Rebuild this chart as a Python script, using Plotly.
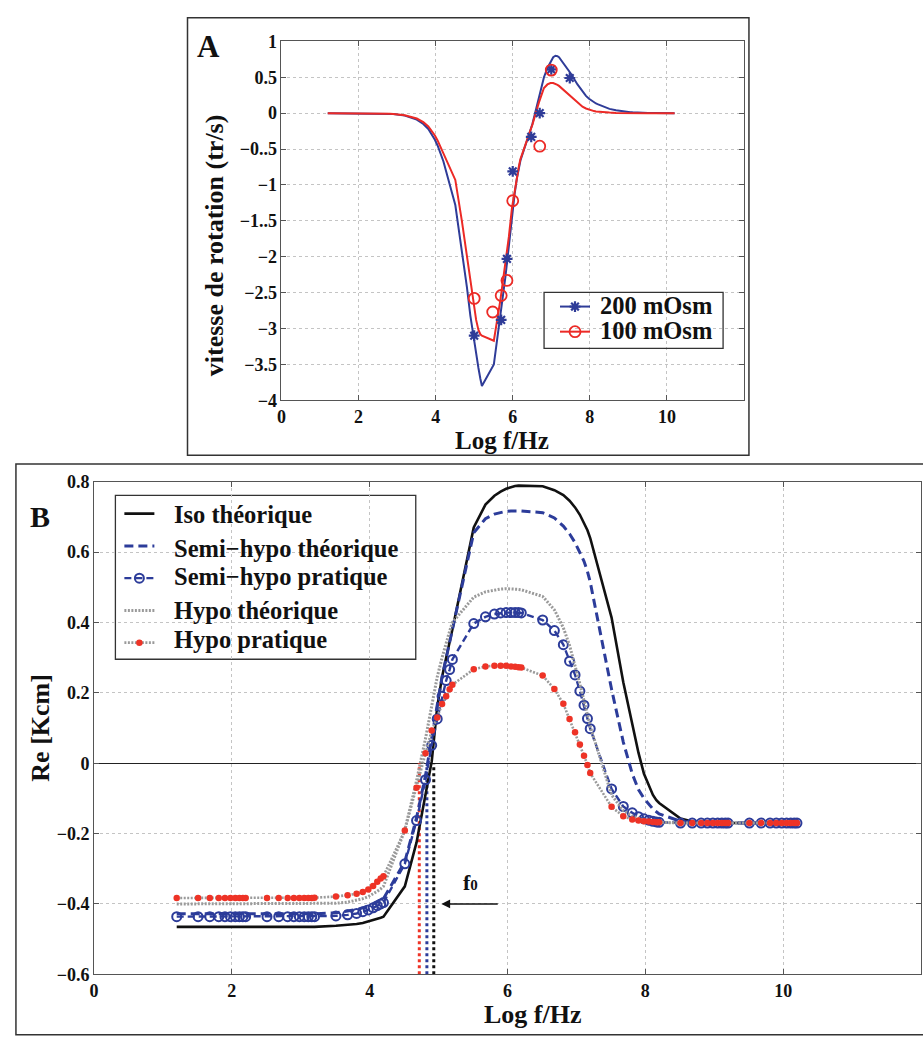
import plotly.graph_objects as go

W, H = 923, 1037

# Frequency sweep (log10 of f in Hz), shared by both panels
LOG_F = [
    1.20, 1.51, 1.68, 1.81, 1.90, 1.98, 2.05, 2.11, 2.16,
    2.20, 2.51, 2.68, 2.81, 2.90, 2.98, 3.05, 3.11, 3.16,
    3.20, 3.51, 3.68, 3.81, 3.90, 3.98, 4.05, 4.11, 4.16,
    4.20, 4.51, 4.68, 4.81, 4.90, 4.98, 5.05, 5.11, 5.16,
    5.20, 5.51, 5.68, 5.81, 5.90, 5.98, 6.05, 6.11, 6.16,
    6.20, 6.51, 6.68, 6.81, 6.90, 6.98, 7.05, 7.11, 7.16,
    7.20, 7.51, 7.68, 7.81, 7.90, 7.98, 8.05, 8.11, 8.16,
    8.20, 8.51, 8.68, 8.81, 8.90, 8.98, 9.05, 9.11, 9.16,
    9.20, 9.51, 9.68, 9.81, 9.90, 9.98, 10.05, 10.11, 10.16,
    10.20,
]

# Panel A: rotation speed (tr/s), model curves
ROT_200_MODEL = [
    0.0, 0.0, 0.0, 0.0, 0.0, 0.0, 0.0, 0.0, 0.0,
    0.0, -0.004, -0.007, -0.010, -0.013, -0.017, -0.021, -0.026, -0.030,
    -0.034, -0.09, -0.15, -0.22, -0.29, -0.37, -0.45, -0.54, -0.61,
    -0.67, -1.28, -1.90, -2.42, -2.82, -3.12, -3.35, -3.55, -3.70,
    -3.80, -3.50, -2.85, -2.28, -1.85, -1.42, -1.12, -0.90, -0.76,
    -0.66, -0.15, 0.22, 0.50, 0.63, 0.72, 0.78, 0.80, 0.795,
    0.78, 0.55, 0.40, 0.30, 0.24, 0.20, 0.17, 0.15, 0.135,
    0.125, 0.06, 0.04, 0.028, 0.022, 0.017, 0.014, 0.012, 0.010,
    0.009, 0.004, 0.002, 0.001, 0.001, 0.0, 0.0, 0.0, 0.0,
    0.0,
]
ROT_100_MODEL = [
    0.0, 0.0, 0.0, 0.0, 0.0, 0.0, 0.0, 0.0, 0.0,
    0.0, -0.003, -0.006, -0.009, -0.012, -0.015, -0.019, -0.023, -0.027,
    -0.030, -0.075, -0.125, -0.185, -0.245, -0.31, -0.38, -0.45, -0.51,
    -0.56, -0.93, -1.50, -1.98, -2.32, -2.65, -2.88, -3.02, -3.08,
    -3.10, -3.17, -2.60, -2.12, -1.72, -1.32, -1.08, -0.88, -0.74,
    -0.64, -0.16, 0.15, 0.35, 0.40, 0.42, 0.42, 0.41, 0.395,
    0.38, 0.23, 0.14, 0.09, 0.065, 0.047, 0.036, 0.029, 0.024,
    0.021, 0.008, 0.004, 0.002, 0.001, 0.0, 0.0, 0.0, 0.0,
    0.0, 0.0, 0.0, 0.0, 0.0, 0.0, 0.0, 0.0, 0.0,
    0.0,
]

# Panel A: measured rotation speeds
MEAS_200_LOGF = [5.0, 5.7, 5.85, 6.0, 6.48, 6.7, 7.0, 7.48]
MEAS_200_ROT = [-3.10, -2.88, -2.03, -0.81, -0.33, 0.0, 0.61, 0.49]
MEAS_100_LOGF = [5.0, 5.48, 5.7, 5.85, 6.0, 6.7, 7.0]
MEAS_100_ROT = [-2.58, -2.77, -2.54, -2.33, -1.22, -0.46, 0.60]

# Panel B: real part of the Clausius-Mossotti factor
ISO_THEO = [
    -0.465, -0.465, -0.465, -0.465, -0.465, -0.465, -0.465, -0.465, -0.465,
    -0.465, -0.465, -0.465, -0.465, -0.465, -0.465, -0.465, -0.465, -0.465,
    -0.465, -0.462, -0.460, -0.457, -0.454, -0.450, -0.446, -0.442, -0.439,
    -0.436, -0.350, -0.225, -0.085, 0.005, 0.160, 0.245, 0.300, 0.345,
    0.380, 0.670, 0.735, 0.760, 0.772, 0.780, 0.785, 0.788, 0.789,
    0.789, 0.787, 0.776, 0.762, 0.746, 0.727, 0.706, 0.684, 0.662,
    0.640, 0.414, 0.230, 0.110, 0.030, -0.030, -0.065, -0.090, -0.105,
    -0.113, -0.157, -0.166, -0.169, -0.170, -0.170, -0.170, -0.170, -0.170,
    -0.170, -0.170, -0.170, -0.170, -0.170, -0.170, -0.170, -0.170, -0.170,
    -0.170,
]
SEMI_THEO = [
    -0.428, -0.428, -0.428, -0.428, -0.428, -0.428, -0.428, -0.428, -0.428,
    -0.428, -0.428, -0.428, -0.428, -0.428, -0.428, -0.428, -0.428, -0.428,
    -0.428, -0.425, -0.421, -0.416, -0.411, -0.406, -0.400, -0.394, -0.389,
    -0.385, -0.280, -0.155, -0.035, 0.065, 0.165, 0.245, 0.300, 0.345,
    0.380, 0.655, 0.695, 0.708, 0.713, 0.716, 0.717, 0.717, 0.717,
    0.717, 0.712, 0.697, 0.674, 0.652, 0.627, 0.600, 0.574, 0.545,
    0.515, 0.210, 0.060, -0.030, -0.075, -0.100, -0.117, -0.130, -0.138,
    -0.144, -0.165, -0.169, -0.170, -0.170, -0.170, -0.170, -0.170, -0.170,
    -0.170, -0.170, -0.170, -0.170, -0.170, -0.170, -0.170, -0.170, -0.170,
    -0.170,
]
SEMI_PRAT = [
    -0.436, -0.436, -0.436, -0.436, -0.436, -0.436, -0.436, -0.436, -0.436,
    -0.436, -0.436, -0.436, -0.436, -0.436, -0.436, -0.436, -0.436, -0.436,
    -0.436, -0.434, -0.431, -0.427, -0.422, -0.417, -0.411, -0.405, -0.400,
    -0.396, -0.286, -0.163, -0.047, 0.051, 0.126, 0.190, 0.235, 0.266,
    0.295, 0.397, 0.416, 0.424, 0.427, 0.428, 0.428, 0.428, 0.428,
    0.427, 0.407, 0.377, 0.337, 0.290, 0.251, 0.205, 0.165, 0.127,
    0.098, -0.073, -0.123, -0.141, -0.152, -0.158, -0.162, -0.165, -0.167,
    -0.168, -0.170, -0.170, -0.170, -0.170, -0.170, -0.170, -0.170, -0.170,
    -0.170, -0.170, -0.170, -0.170, -0.170, -0.170, -0.170, -0.170, -0.170,
    -0.170,
]
HYPO_THEO = [
    -0.400, -0.400, -0.400, -0.400, -0.400, -0.400, -0.400, -0.400, -0.400,
    -0.400, -0.400, -0.400, -0.400, -0.400, -0.400, -0.400, -0.400, -0.400,
    -0.400, -0.398, -0.395, -0.390, -0.385, -0.379, -0.372, -0.364, -0.357,
    -0.350, -0.190, -0.050, 0.070, 0.165, 0.245, 0.300, 0.345, 0.375,
    0.400, 0.472, 0.487, 0.493, 0.495, 0.496, 0.496, 0.495, 0.494,
    0.493, 0.474, 0.436, 0.385, 0.335, 0.280, 0.225, 0.178, 0.140,
    0.105, -0.090, -0.135, -0.150, -0.157, -0.161, -0.164, -0.166, -0.167,
    -0.168, -0.170, -0.170, -0.170, -0.170, -0.170, -0.170, -0.170, -0.170,
    -0.170, -0.170, -0.170, -0.170, -0.170, -0.170, -0.170, -0.170, -0.170,
    -0.170,
]
HYPO_PRAT = [
    -0.383, -0.383, -0.383, -0.383, -0.383, -0.383, -0.383, -0.383, -0.383,
    -0.383, -0.383, -0.383, -0.383, -0.383, -0.383, -0.383, -0.383, -0.383,
    -0.382, -0.379, -0.375, -0.371, -0.366, -0.359, -0.349, -0.337, -0.328,
    -0.321, -0.191, -0.070, 0.028, 0.093, 0.130, 0.168, 0.190, 0.210,
    0.223, 0.267, 0.275, 0.277, 0.277, 0.277, 0.275, 0.274, 0.273,
    0.272, 0.249, 0.211, 0.169, 0.126, 0.088, 0.053, 0.021, -0.005,
    -0.028, -0.124, -0.151, -0.160, -0.163, -0.165, -0.166, -0.167, -0.168,
    -0.168, -0.170, -0.170, -0.170, -0.170, -0.170, -0.170, -0.170, -0.170,
    -0.170, -0.170, -0.170, -0.170, -0.170, -0.170, -0.170, -0.170, -0.170,
    -0.170,
]

# Crossover frequencies f0 (log f) for hypo, semi-hypo and iso media
F0_LOGF = [4.72, 4.83, 4.93]

A_YTICKS = [-4, -3.5, -3, -2.5, -2, -1.5, -1, -0.5, 0, 0.5, 1]
A_YTICKTEXT = ["−4", "−3.5", "−3", "−2.5", "−2", "−1..5", "−1", "−0..5", "0", "0.5", "1"]
B_YTICKS = [-0.6, -0.4, -0.2, 0, 0.2, 0.4, 0.6, 0.8]
B_YTICKTEXT = ["−0.6", "−0.4", "−0.2", "0", "0.2", "0.4", "0.6", "0.8"]
X_TICKS = [0, 2, 4, 6, 8, 10]
LEGEND_A = ["200 mOsm", "100 mOsm"]
LEGEND_B = ["Iso théorique", "Semi−hypo théorique", "Semi−hypo pratique",
            "Hypo théorique", "Hypo pratique"]

# ---------------------------------------------------------------- style
FONT = "Liberation Serif"
BLUE_A = "#2F3C98"
RED_A = "#EC2A26"
BLACK = "#111111"
BLUE = "#2C3C9A"
GRAY = "#9A9A9A"
RED = "#EE3326"
GRID = "#C4C4C4"
AXLINE = "#555555"


def fx(p):
    return p / W


def fy(p):
    return 1 - p / H


fig = go.Figure()

# ---------------------------------------------------------------- panel A
fig.add_trace(go.Scatter(x=LOG_F, y=ROT_200_MODEL, mode="lines",
                         line=dict(color=BLUE_A, width=2), showlegend=False,
                         xaxis="x", yaxis="y"))
fig.add_trace(go.Scatter(x=LOG_F, y=ROT_100_MODEL, mode="lines",
                         line=dict(color=RED_A, width=2), showlegend=False,
                         xaxis="x", yaxis="y"))
MARK_200 = dict(symbol="asterisk-open", size=9, color=BLUE_A, line=dict(color=BLUE_A, width=2.2))
MARK_100 = dict(symbol="circle-open", size=11, color=RED_A, line=dict(color=RED_A, width=1.8))
fig.add_trace(go.Scatter(x=MEAS_200_LOGF, y=MEAS_200_ROT, mode="markers",
                         marker=MARK_200, showlegend=False, xaxis="x", yaxis="y"))
fig.add_trace(go.Scatter(x=MEAS_100_LOGF, y=MEAS_100_ROT, mode="markers",
                         marker=MARK_100, showlegend=False, xaxis="x", yaxis="y"))
# legend keys (text is set as annotations)
fig.add_trace(go.Scatter(x=[None], y=[None], mode="lines+markers", name=" ",
                         line=dict(color=BLUE_A, width=2), marker=MARK_200,
                         legend="legend", xaxis="x", yaxis="y"))
fig.add_trace(go.Scatter(x=[None], y=[None], mode="lines+markers", name=" ",
                         line=dict(color=RED_A, width=2), marker=MARK_100,
                         legend="legend", xaxis="x", yaxis="y"))

# ---------------------------------------------------------------- panel B
F0_COLORS = [RED, BLUE, BLACK]
for f0, col in zip(F0_LOGF, F0_COLORS):
    fig.add_trace(go.Scatter(x=[f0, f0], y=[-0.6, 0], mode="lines",
                             line=dict(color=col, width=3, dash="3px,3px"),
                             showlegend=False, xaxis="x2", yaxis="y2"))

B_STYLES = [
    dict(mode="lines", line=dict(color=BLACK, width=2.6)),
    dict(mode="lines", line=dict(color=BLUE, width=3, dash="9px,5px")),
    dict(mode="lines+markers", line=dict(color=BLUE, width=2.4, dash="7px,4px"),
         marker=dict(symbol="circle-open", size=9, color=BLUE, line=dict(color=BLUE, width=2))),
    dict(mode="lines", line=dict(color=GRAY, width=3, dash="2px,1.5px")),
    dict(mode="lines+markers", line=dict(color=GRAY, width=2.6, dash="2px,1.5px"),
         marker=dict(symbol="circle", size=6.5, color=RED, line=dict(width=0))),
]
B_SERIES = [ISO_THEO, SEMI_THEO, SEMI_PRAT, HYPO_THEO, HYPO_PRAT]
for ys, st in zip(B_SERIES, B_STYLES):
    fig.add_trace(go.Scatter(x=LOG_F, y=ys, showlegend=False, xaxis="x2", yaxis="y2", **st))
for st in B_STYLES:
    fig.add_trace(go.Scatter(x=[None], y=[None], name=" ", legend="legend2",
                             xaxis="x2", yaxis="y2", **st))

# ---------------------------------------------------------------- axes
tickfont = dict(family=FONT, size=18, color="#111", weight="bold")
common = dict(ticks="inside", ticklen=5, tickcolor=AXLINE, showline=True, linecolor=AXLINE,
              linewidth=1, mirror="ticks", showgrid=True, gridcolor=GRID, griddash="dot",
              gridwidth=1, tickfont=tickfont)

fig.update_layout(
    width=W, height=H, autosize=False,
    margin=dict(l=0, r=0, t=0, b=0),
    paper_bgcolor="white", plot_bgcolor="white",
    xaxis=dict(domain=[fx(278), fx(743)], range=[0, 12], tickvals=X_TICKS,
               zeroline=False, anchor="y", **common),
    yaxis=dict(domain=[fy(398), fy(32)], range=[-4, 1], tickvals=A_YTICKS,
               ticktext=A_YTICKTEXT, zeroline=False, anchor="x", **common),
    xaxis2=dict(domain=[fx(89.5), fx(921)], range=[0, 12], tickvals=X_TICKS,
                zeroline=False, anchor="y2", **common),
    yaxis2=dict(domain=[fy(983.3), fy(481)], range=[-0.6, 0.8], tickvals=B_YTICKS,
                ticktext=B_YTICKTEXT, zeroline=True, zerolinecolor="#222", zerolinewidth=1.2,
                anchor="x2", **common),
    legend=dict(x=fx(553), y=fy(284.5), xanchor="left", yanchor="top",
                bgcolor="rgba(0,0,0,0)", borderwidth=0, font=dict(size=17)),
    legend2=dict(x=fx(115), y=fy(492), xanchor="left", yanchor="top",
                 bgcolor="rgba(0,0,0,0)", borderwidth=0, font=dict(size=22.5)),
    showlegend=True,
)

# ---------------------------------------------------------------- frames & text
shapes = [
    dict(type="rect", xref="paper", yref="paper", x0=fx(183.5), x1=fx(748), y0=fy(454), y1=fy(8),
         line=dict(color="#333", width=1.5), fillcolor="rgba(0,0,0,0)", layer="above"),
    dict(type="rect", xref="paper", yref="paper", x0=fx(11), x1=fx(930), y0=fy(1045), y1=fy(463),
         line=dict(color="#333", width=1.5), fillcolor="rgba(0,0,0,0)", layer="above"),
    dict(type="rect", xref="paper", yref="paper", x0=fx(542), x1=fx(722), y0=fy(345), y1=fy(288),
         line=dict(color="#333", width=1.3), fillcolor="rgba(0,0,0,0)", layer="above"),
    dict(type="rect", xref="paper", yref="paper", x0=fx(111), x1=fx(413), y0=fy(662), y1=fy(495),
         line=dict(color="#333", width=1.3), fillcolor="white", layer="below"),
]
fig.update_layout(shapes=shapes)


def text(x, y, s, size, xanchor="center", angle=0):
    return dict(xref="paper", yref="paper", x=fx(x), y=fy(y), text=s, showarrow=False,
                xanchor=xanchor, yanchor="middle", textangle=angle,
                font=dict(family=FONT, size=size, color="#111", weight="bold"))


ann = [
    text(205, 37, "A", 31),
    text(35, 516, "B", 30),
    text(500, 439, "Log f/Hz", 25),
    text(211, 240, "vitesse de rotation (tr/s)", 26, angle=-90),
    text(531, 1024, "Log f/Hz", 26),
    text(36, 732, "Re [Kcm]", 26, angle=-90),
]
for lbl, yy in zip(LEGEND_A, [301, 327]):
    ann.append(text(596, yy, lbl, 24.5, xanchor="left"))
for lbl, yy in zip(LEGEND_B, [514, 549, 578, 612, 642]):
    ann.append(text(168, yy, lbl, 24.5, xanchor="left"))

# f0 marker: arrow pointing to the crossover frequencies
ann.append(dict(xref="x2", yref="y2", axref="x2", ayref="y2", x=5.04, y=-0.4, ax=5.88, ay=-0.4,
                text="", showarrow=True, arrowhead=2, arrowsize=1.1, arrowwidth=1.6,
                arrowcolor="#111"))
ann.append(dict(xref="x2", yref="y2", x=5.46, y=-0.34, showarrow=False,
                text="f<span style='font-size:15px'>0</span>",
                font=dict(family=FONT, size=22, color="#111", weight="bold")))
fig.update_layout(annotations=ann)

fig.write_html("out.html")
